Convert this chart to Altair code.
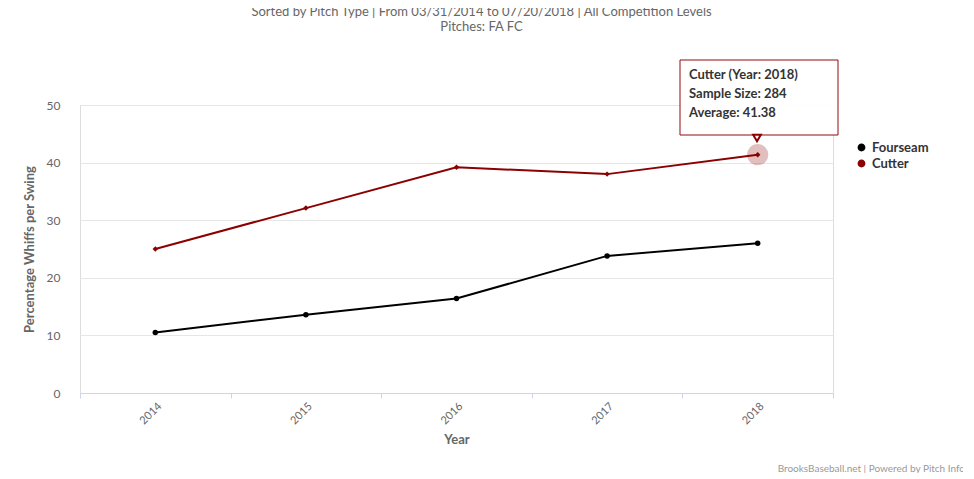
import altair as alt
import pandas as pd

years = ["2014", "2015", "2016", "2017", "2018"]
fourseam = [10.5, 13.6, 16.4, 23.8, 26.0]
cutter = [25.0, 32.1, 39.2, 38.0, 41.38]
series_names = ["Fourseam", "Cutter"]
colors = ["#000000", "#8b0000"]

rows = []
for y, v in zip(years, fourseam):
    rows.append({"Year": y, "val": v, "Pitch": "Fourseam"})
for y, v in zip(years, cutter):
    rows.append({"Year": y, "val": v, "Pitch": "Cutter"})
df = pd.DataFrame(rows)

F = "Lato"
x = alt.X("Year:N", title="Year", scale=alt.Scale(domain=years, paddingInner=0, paddingOuter=0),
          axis=alt.Axis(labelAngle=-45, tickBand="extent", grid=False, domainColor="#ccd6eb",
                        tickColor="#ccd6eb", labelColor="#666", titleColor="#666", titleFontSize=13,
                        labelFontSize=11, titleFont=F, labelFont=F, titleFontWeight="bold", titlePadding=8))
y = alt.Y("val:Q", title="Percentage Whiffs per Swing", scale=alt.Scale(domain=[0, 50]),
          axis=alt.Axis(values=[0, 10, 20, 30, 40, 50], domain=False, ticks=False, gridColor="#e6e6e6",
                        labelColor="#666", titleColor="#666", titleFontSize=13, labelFontSize=12,
                        titleFont=F, labelFont=F, labelPadding=20, titlePadding=10, titleFontWeight="bold"))
color = alt.Color("Pitch:N", scale=alt.Scale(domain=series_names, range=colors),
                  legend=alt.Legend(title=None, orient="none", legendX=775, legendY=36, labelFontSize=13,
                                    labelFont=F, labelFontWeight="bold", symbolType="circle", symbolSize=40,
                                    labelColor="#333"))

base = alt.Chart(df)
halo = alt.Chart(pd.DataFrame({"Year": ["2018"], "val": [cutter[-1]]})).mark_point(
    filled=True, size=450, color="#8b0000", opacity=0.25).encode(x=x, y=y)
lines = base.mark_line(strokeWidth=2).encode(x=x, y=y, color=color)
fpts = base.transform_filter("datum.Pitch=='Fourseam'").mark_point(filled=True, size=30, opacity=1).encode(
    x=x, y=y, color=color)
cpts = base.transform_filter("datum.Pitch=='Cutter'").mark_point(filled=True, size=30, shape="diamond", opacity=1).encode(
    x=x, y=y, color=color)

box = alt.Chart(pd.DataFrame({"a": [1]})).mark_rect(fill="white", stroke="#8b0000", strokeWidth=1, opacity=0.95).encode(
    x=alt.value(600), x2=alt.value(758), y=alt.value(-45), y2=alt.value(30))
ptr = alt.Chart(pd.DataFrame({"a": [1]})).mark_point(shape="triangle-down", filled=True, fill="white",
    stroke="#8b0000", size=60, opacity=1).encode(x=alt.value(677), y=alt.value(33))
tt = pd.DataFrame({"t": ["Cutter (Year: 2018)", "Sample Size: 284", "Average: 41.38"], "yy": [-30, -11, 8]})
ttext = alt.Chart(tt).mark_text(align="left", fontSize=13, font=F, color="#333", fontWeight="bold").encode(
    x=alt.value(609), y=alt.Y("yy:Q", scale=None, axis=None), text="t:N")
credit = alt.Chart(pd.DataFrame({"t": ["BrooksBaseball.net | Powered by Pitch Info"]})).mark_text(
    align="right", fontSize=10, font=F, color="#999").encode(x=alt.value(885), y=alt.value(364), text="t:N")

chart = alt.layer(halo, lines, fpts, cpts, box, ptr, ttext, credit).properties(
    width=753, height=288,
    title=alt.TitleParams("James Paxton (Seattle Mariners)",
        subtitle=["Sorted by Pitch Type | From 03/31/2014 to 07/20/2018 | All Competition Levels", "Pitches: FA FC"],
        fontSize=20, font=F, color="#333", subtitleFont=F, subtitleFontSize=13, subtitleColor="#666",
        anchor="middle", dx=25, offset=26, subtitlePadding=16),
    padding={"left": 72, "top": 97, "right": 130, "bottom": 80},
    autosize=alt.AutoSizeParams(type="none")
).configure_view(stroke=None).configure(background="white")

chart.save("out.html", embed_options={"renderer": "svg", "actions": False})
